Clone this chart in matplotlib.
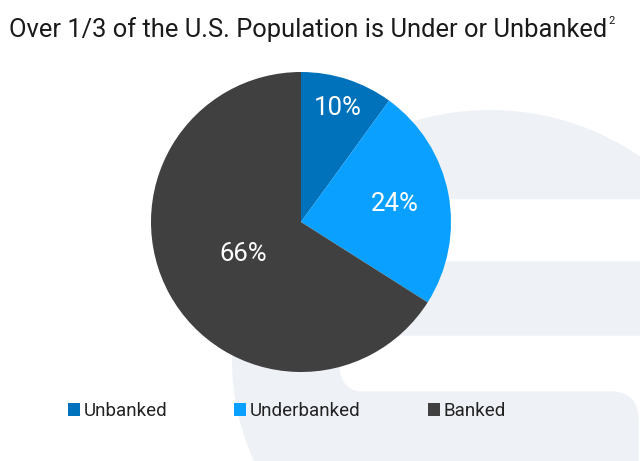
import numpy as np
import matplotlib
matplotlib.use('Agg')
import matplotlib.pyplot as plt
from matplotlib.patches import Patch, Ellipse, Rectangle, FancyBboxPatch

plt.rcParams['font.family'] = ['Roboto', 'DejaVu Sans']

# dados
categorias = ['Unbanked', 'Underbanked', 'Banked']
valores = [10, 24, 66]
cores = ['#0072BC', '#0AA0FF', '#404040']
rotulos = ['10%', '24%', '66%']
dist_rotulo = [0.80, 0.64, 0.44]   # posicao radial dos rotulos

W, H = 640, 461
fig = plt.figure(figsize=(W / 100, H / 100), dpi=100)

# marca d'agua ao fundo (coordenadas em pixels)
bg = fig.add_axes([0, 0, 1, 1], zorder=0)
bg.set_xlim(0, W)
bg.set_ylim(H, 0)
bg.axis('off')
cinza = '#EEF1F6'
elip = Ellipse((490, 360), 516, 500, transform=bg.transData)
p1 = bg.add_patch(Rectangle((0, 300), 400, 120, color=cinza))
p1.set_clip_path(elip)
bg.add_patch(FancyBboxPatch((340, 335), 520, 57, boxstyle='round,pad=0,rounding_size=28.5', color='white'))
p2 = bg.add_patch(Rectangle((0, 0), 700, 198, color=cinza))
p2.set_clip_path(elip)
p3 = bg.add_patch(FancyBboxPatch((0, 262), 675, 73, boxstyle='round,pad=0,rounding_size=36', color=cinza))
p3.set_clip_path(elip)
p4 = bg.add_patch(FancyBboxPatch((0, 392), 638, 120, boxstyle='round,pad=0,rounding_size=28', color=cinza))
p4.set_clip_path(elip)

# grafico de pizza
cx, cy, r = 301, 222, 150
ax = fig.add_axes([(cx - r) / W, 1 - (cy + r) / H, 2 * r / W, 2 * r / H], zorder=2)
fatias, _ = ax.pie(valores, colors=cores, startangle=90, counterclock=False,
                   wedgeprops=dict(linewidth=0))
for f, txt, d in zip(fatias, rotulos, dist_rotulo):
    ang = np.deg2rad((f.theta1 + f.theta2) / 2)
    ax.text(d * np.cos(ang), d * np.sin(ang), txt, ha='center', va='center',
            color='white', fontsize=18.5)
ax.set_xlim(-1, 1)
ax.set_ylim(-1, 1)
ax.set_aspect('equal')

# titulo com sobrescrito
tit = fig.text(308 / W, 1 - 37 / H, 'Over 1/3 of the U.S. Population is Under or Unbanked',
               ha='center', va='baseline', fontsize=18.4, color='#1a1a1a')
fig.canvas.draw()
bb = tit.get_window_extent()
fig.text((bb.x1 + 1.5) / W, 1 - 24 / H, '2', ha='left', va='baseline', fontsize=8, color='#1a1a1a')

# legenda
alcas = [Patch(facecolor=c, edgecolor='none') for c in cores]
fig.legend(alcas, categorias, loc='center', bbox_to_anchor=(287 / W, 1 - 411 / H), ncol=3,
           frameon=False, fontsize=13.5, handlelength=0.64, handleheight=0.64,
           handletextpad=0.2, columnspacing=3.55, labelcolor='#222222')

fig.savefig('out.png', dpi=100)
